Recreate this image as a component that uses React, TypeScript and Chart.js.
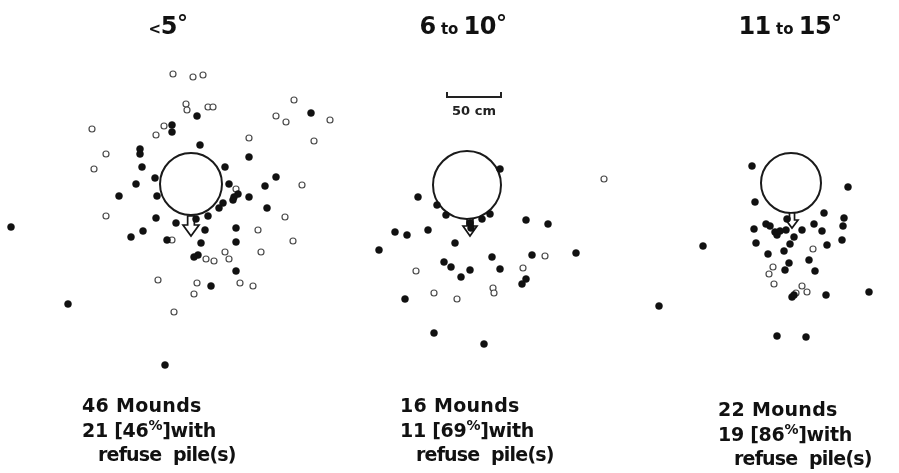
import { useEffect, useRef } from "react";
import { Chart, registerables } from "chart.js";

Chart.register(...registerables);

const W = 899;
const H = 473;

// Panel titles (slope classes, degrees)
const slopeLow = ["5", "6", "11"];
const slopeHigh = ["", "10", "15"];
const titleCenterX = [168, 463, 790];

// Captions
const moundCounts = [46, 16, 22];
const withPile = [21, 11, 19];
const pctWithPile = [46, 69, 86];

// Mound centres and radii (plot units)
const moundX = [191, 467, 791];
const moundY = [184, 185, 183];
const moundR = [31, 34, 30];

// Down-slope arrows: x, top, tip, head half-width, head height
const arrowX = [191, 470, 792];
const arrowTop = [216, 219, 213];
const arrowTip = [236, 236, 228];
const arrowHead = [8, 7, 6];
const arrowHeadH = [11, 10, 8];

// Scale bar: 50 cm
const scaleBarStart = 447;
const scaleBarLen = 54;
const scaleBarY = 97;

// Refuse piles, slope < 5°
const filledLt5: [number, number][] = [
  [140, 149], [140, 154], [142, 167], [155, 178], [136, 184], [119, 196], [157, 196],
  [156, 218], [11, 227], [143, 231], [131, 237], [167, 240], [68, 304], [165, 365],
  [197, 116], [172, 125], [172, 132], [200, 145], [249, 157], [225, 167], [276, 177],
  [265, 186], [229, 184], [238, 194], [234, 197], [233, 200], [249, 197], [223, 203],
  [219, 208], [267, 208], [208, 216], [196, 219], [311, 113],
  [176, 223], [205, 230], [236, 228], [201, 243], [236, 242], [198, 255], [194, 257],
  [236, 271], [211, 286],
];
const openLt5: [number, number][] = [
  [92, 129], [106, 154], [94, 169], [156, 135], [164, 126], [106, 216], [173, 74],
  [193, 77], [203, 75], [186, 104], [187, 110], [208, 107], [213, 107], [294, 100],
  [276, 116], [286, 122], [330, 120], [249, 138], [314, 141], [302, 185], [236, 189],
  [285, 217], [258, 230], [293, 241], [172, 240], [261, 252], [206, 259], [214, 261],
  [225, 252], [229, 259], [197, 283], [240, 283], [253, 286], [194, 294], [158, 280],
  [174, 312],
];

// Slope 6 to 10°
const filled6to10: [number, number][] = [
  [500, 169], [418, 197], [437, 205], [446, 215], [490, 214], [482, 219], [526, 220],
  [548, 224], [395, 232], [407, 235], [428, 230], [470, 223], [471, 228], [455, 243],
  [379, 250], [492, 257], [532, 255], [576, 253], [444, 262], [451, 267], [470, 270],
  [500, 269], [461, 277], [526, 279], [522, 284], [405, 299], [434, 333], [484, 344],
];
const open6to10: [number, number][] = [
  [604, 179], [545, 256], [416, 271], [523, 268], [493, 288], [494, 293], [434, 293],
  [457, 299],
];

// Slope 11 to 15°
const filled11to15: [number, number][] = [
  [752, 166], [848, 187], [755, 202], [824, 213], [844, 218], [787, 219], [843, 226],
  [814, 224], [754, 229], [766, 224], [770, 226], [775, 232], [777, 235], [780, 231],
  [786, 230], [802, 230], [822, 231], [842, 240], [794, 237], [756, 243], [790, 244],
  [827, 245], [703, 246], [768, 254], [784, 251], [809, 260], [789, 263], [785, 270],
  [815, 271], [792, 297], [794, 295], [826, 295], [869, 292], [659, 306], [777, 336],
  [806, 337],
];
const open11to15: [number, number][] = [
  [813, 249], [773, 267], [769, 274], [774, 284], [802, 286], [807, 292], [796, 293],
];

const toPts = (a: [number, number][]) => a.map(([x, y]) => ({ x, y }));

const FONT = "'DejaVu Sans', 'Liberation Sans', sans-serif";

export default function App() {
  const ref = useRef<HTMLCanvasElement | null>(null);

  useEffect(() => {
    if (!ref.current) return;
    const overlay = {
      id: "overlay",
      afterDatasetDraw(chart: any, args: any) {
        const ds = chart.data.datasets[args.index];
        if (!ds || ds.label !== "mounds") return;
        const sx = chart.scales.x;
        const sy = chart.scales.y;
        const ctx = chart.ctx;
        const unit = sx.getPixelForValue(1) - sx.getPixelForValue(0);
        ctx.save();
        for (let i = 0; i < arrowX.length; i++) {
          const x = sx.getPixelForValue(arrowX[i]);
          const yt = sy.getPixelForValue(arrowTop[i]);
          const yb = sy.getPixelForValue(arrowTip[i]);
          const hw = arrowHead[i] * unit;
          const hh = arrowHeadH[i] * unit;
          const sw = hw * 0.42;
          ctx.beginPath();
          ctx.moveTo(x - sw, yt);
          ctx.lineTo(x - sw, yb - hh);
          ctx.lineTo(x - hw, yb - hh);
          ctx.lineTo(x, yb);
          ctx.lineTo(x + hw, yb - hh);
          ctx.lineTo(x + sw, yb - hh);
          ctx.lineTo(x + sw, yt);
          ctx.closePath();
          ctx.fillStyle = "#ffffff";
          ctx.fill();
          ctx.lineWidth = 1.7;
          ctx.strokeStyle = "#151515";
          ctx.lineJoin = "miter";
          ctx.stroke();
        }
        // scale bar
        const x0 = sx.getPixelForValue(scaleBarStart);
        const x1 = sx.getPixelForValue(scaleBarStart + scaleBarLen);
        const y = sy.getPixelForValue(scaleBarY);
        ctx.beginPath();
        ctx.moveTo(x0, y - 5);
        ctx.lineTo(x0, y);
        ctx.lineTo(x1, y);
        ctx.lineTo(x1, y - 5);
        ctx.lineWidth = 2;
        ctx.strokeStyle = "#222";
        ctx.stroke();
        ctx.restore();
      },
    };

    const chart = new Chart(ref.current, {
      type: "scatter",
      data: {
        datasets: [
          {
            label: "filled",
            data: toPts([...filledLt5, ...filled6to10, ...filled11to15]),
            pointRadius: 3.5,
            pointBackgroundColor: "#111111",
            pointBorderColor: "#111111",
            pointBorderWidth: 0.5,
            order: 1,
            clip: false,
          } as any,
          {
            label: "open",
            data: toPts([...openLt5, ...open6to10, ...open11to15]),
            pointRadius: 3.0,
            pointBackgroundColor: "#ffffff",
            pointBorderColor: "#4a4a4a",
            pointBorderWidth: 1.2,
            order: 2,
            clip: false,
          } as any,
          {
            label: "mounds",
            data: moundX.map((x, i) => ({ x, y: moundY[i] })),
            pointRadius: (c: any) => {
              const s = c.chart.scales.x;
              if (!s) return moundR[c.dataIndex];
              return s.getPixelForValue(moundR[c.dataIndex]) - s.getPixelForValue(0);
            },
            pointBackgroundColor: "#ffffff",
            pointBorderColor: "#1a1a1a",
            pointBorderWidth: 2,
            order: 3,
            clip: false,
          } as any,
        ],
      },
      options: {
        animation: false,
        responsive: false,
        maintainAspectRatio: false,
        layout: { padding: 0, autoPadding: false },
        events: [],
        plugins: { legend: { display: false }, tooltip: { enabled: false } },
        scales: {
          x: { type: "linear", min: 0, max: W, display: false },
          y: { type: "linear", min: 0, max: H, reverse: true, display: false },
        },
      } as any,
      plugins: [overlay],
    });
    return () => chart.destroy();
  }, []);

  const capLeft = [82, 400, 718];
  const capBase = [412, 412, 416];

  return (
    <div
      style={{
        position: "absolute",
        left: 0,
        top: 0,
        width: W,
        height: H,
        background: "#ffffff",
        overflow: "hidden",
      }}
    >
      <canvas ref={ref} width={W} height={H} style={{ position: "absolute", left: 0, top: 0, width: W, height: H }} />
      {slopeLow.map((lo, i) => (
        <div
          key={"t" + i}
          style={{
            position: "absolute",
            left: titleCenterX[i] - 80,
            width: 160,
            top: 14,
            textAlign: "center",
            fontFamily: FONT,
            fontWeight: "bold",
            fontSize: 24,
            lineHeight: "24px",
            color: "#111",
            whiteSpace: "pre",
            letterSpacing: "-0.5px",
          }}
        >
          {slopeHigh[i] === "" ? (
            <>
              <span style={{ fontSize: 15 }}>{"<"}</span>
              {lo}
            </>
          ) : (
            <>
              {lo}
              <span style={{ fontSize: 15, letterSpacing: "0px" }}>{" to "}</span>
              {slopeHigh[i]}
            </>
          )}
          <span style={{ position: "relative", top: -4, fontSize: 22 }}>°</span>
        </div>
      ))}
      <div
        style={{
          position: "absolute",
          left: 474 - 40,
          width: 80,
          top: 104,
          textAlign: "center",
          fontFamily: FONT,
          fontWeight: "bold",
          fontSize: 13,
          lineHeight: "13px",
          color: "#222",
        }}
      >
        50 cm
      </div>
      {moundCounts.map((n, i) => (
        <div key={"c" + i}>
          <div
            style={{
              position: "absolute",
              left: capLeft[i],
              top: capBase[i] - 16,
              fontFamily: FONT,
              fontWeight: "bold",
              fontSize: 19,
              lineHeight: "19px",
              color: "#111",
              whiteSpace: "pre",
              letterSpacing: "0.3px",
            }}
          >
            {n + " Mounds"}
          </div>
          <div
            style={{
              position: "absolute",
              left: capLeft[i],
              top: capBase[i] + 25 - 16,
              fontFamily: FONT,
              fontWeight: "bold",
              fontSize: 19,
              lineHeight: "19px",
              color: "#111",
              whiteSpace: "pre",
              letterSpacing: "-0.3px",
            }}
          >
            {withPile[i] + " [" + pctWithPile[i]}
            <span style={{ fontSize: 14, position: "relative", top: -7 }}>%</span>
            {"]with"}
          </div>
          <div
            style={{
              position: "absolute",
              left: capLeft[i] + 16,
              top: capBase[i] + 49 - 16,
              fontFamily: FONT,
              fontWeight: "bold",
              fontSize: 19,
              lineHeight: "19px",
              color: "#111",
              whiteSpace: "pre",
              letterSpacing: "-0.8px",
            }}
          >
            {"refuse  pile(s)"}
          </div>
        </div>
      ))}
    </div>
  );
}
